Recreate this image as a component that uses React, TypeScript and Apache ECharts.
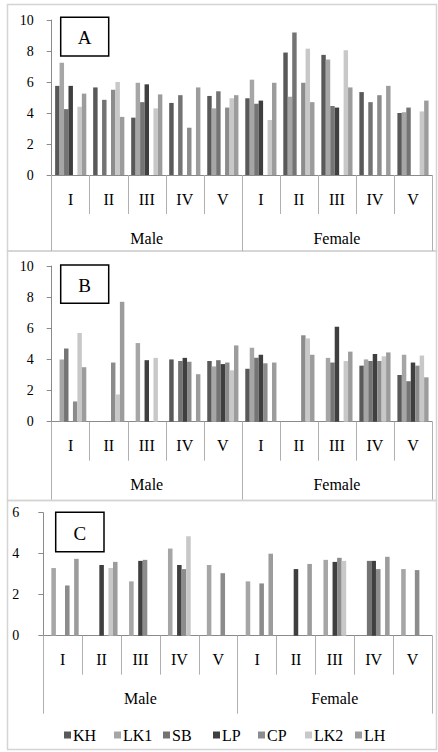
import React, { useEffect, useRef } from "react";
import * as echarts from "echarts";

const seriesNames = ["KH", "LK1", "SB", "LP", "CP", "LK2", "LH"];
const groups = ["Male", "Female"];
const stages = ["I", "II", "III", "IV", "V"];
const categories = [
  "Male I", "Male II", "Male III", "Male IV", "Male V",
  "Female I", "Female II", "Female III", "Female IV", "Female V",
];

// Panel A
const aKH = [5.75, 5.65, 3.7, 4.65, 5.1, 4.95, 7.9, 7.75, 5.35, 4.0];
const aLK1 = [7.25, null, 5.95, null, 4.3, 6.15, 5.05, 7.45, null, 4.05];
const aSB = [4.25, 4.85, 4.7, 5.15, 5.4, 4.6, 9.2, 4.45, 4.7, 4.35];
const aLP = [5.75, null, 5.85, null, null, 4.8, null, 4.35, null, null];
const aCP = [null, 5.5, null, 3.05, 4.35, null, 5.95, null, 5.15, null];
const aLK2 = [4.4, 6.0, 4.3, null, 4.95, 3.55, 8.15, 8.05, null, 4.1];
const aLH = [5.25, 3.75, 5.2, 5.65, 5.15, 5.95, 4.7, 5.65, 5.75, 4.8];

// Panel B
const bKH = [null, null, null, 4.0, 3.9, 3.4, null, null, 3.6, 3.0];
const bLK1 = [4.0, null, 5.05, null, 3.55, 4.75, null, 4.1, 4.0, 4.3];
const bSB = [4.7, null, null, 3.9, 3.95, 4.1, null, 3.8, 3.9, 2.6];
const bLP = [null, null, 3.95, 4.1, 3.7, 4.3, null, 6.1, 4.35, 3.8];
const bCP = [1.3, 3.8, null, 3.85, 3.8, 3.75, 5.55, null, 3.9, 3.6];
const bLK2 = [5.7, 1.75, 4.1, null, 3.3, null, 5.35, 3.9, 4.2, 4.25];
const bLH = [3.5, 7.7, null, 3.05, 4.9, 3.8, 4.3, 4.5, 4.45, 2.85];

// Panel C
const cKH = [null, null, null, null, null, null, null, null, null, null];
const cLK1 = [3.3, null, 2.65, 4.25, 3.45, 2.65, null, 3.7, null, 3.25];
const cSB = [null, null, null, null, null, null, null, null, 3.65, null];
const cLP = [null, 3.45, 3.65, 3.45, null, null, 3.25, 3.6, 3.65, null];
const cCP = [2.45, null, 3.7, 3.25, 3.05, 2.55, null, 3.8, 3.25, 3.2];
const cLK2 = [null, 3.3, null, 4.85, null, null, null, 3.65, null, null];
const cLH = [3.75, 3.6, null, null, null, 4.0, 3.5, null, 3.85, null];

const panelData = [
  [aKH, aLK1, aSB, aLP, aCP, aLK2, aLH],
  [bKH, bLK1, bSB, bLP, bCP, bLK2, bLH],
  [cKH, cLK1, cSB, cLP, cCP, cLK2, cLH],
];
const panelLabels = ["A", "B", "C"];
const yMax = [10, 10, 6];

const colors = ["#595959", "#a6a6a6", "#747474", "#3f3f3f", "#8c8c8c", "#c8c8c8", "#9c9c9c"];
const FONT = "Liberation Serif";

export default function App() {
  const ref = useRef<HTMLDivElement>(null);
  useEffect(() => {
    if (!ref.current) return;
    const chart = echarts.init(ref.current, undefined, { renderer: "svg" });

    const grids = [
      { left: 51.7, top: 20, width: 380.3, height: 155 },
      { left: 51.7, top: 266, width: 380.3, height: 155.7 },
      { left: 43.3, top: 512.7, width: 388.7, height: 123 },
    ];
    const yLabelMargin = [18, 18, 24];
    const axisColor = "#8a8a8a";
    const tickColor = "#b0b0b0";

    const xAxes: any[] = [];
    const yAxes: any[] = [];
    grids.forEach((g, i) => {
      xAxes.push({
        type: "category",
        gridIndex: i,
        data: categories,
        position: "bottom",
        axisLine: { show: true, lineStyle: { color: axisColor, width: 1 } },
        axisTick: { show: true, length: 39, lineStyle: { color: tickColor, width: 1 } },
        axisLabel: {
          margin: 16,
          fontFamily: FONT,
          fontSize: 16,
          color: "#000",
          interval: 0,
          formatter: (v: string) => v.split(" ")[1],
        },
      });
      xAxes.push({
        type: "category",
        gridIndex: i,
        data: groups,
        position: "bottom",
        axisLine: { show: false },
        axisTick: { show: true, length: i === 0 ? 76 : 78, lineStyle: { color: tickColor, width: 1 } },
        axisLabel: { margin: 55, fontFamily: FONT, fontSize: 16, color: "#000", interval: 0 },
      });
      yAxes.push({
        type: "value",
        gridIndex: i,
        min: 0,
        max: yMax[i],
        interval: 2,
        axisLine: { show: true, lineStyle: { color: axisColor, width: 1 } },
        axisTick: { show: true, length: 5, lineStyle: { color: axisColor } },
        splitLine: { show: false },
        axisLabel: { margin: yLabelMargin[i], fontFamily: FONT, fontSize: 14, color: "#000" },
      });
    });

    const series: any[] = [];
    panelData.forEach((pd, p) => {
      pd.forEach((vals, s) => {
        series.push({
          type: "bar",
          name: seriesNames[s],
          xAxisIndex: p * 2,
          yAxisIndex: p,
          data: vals.map((v) => (v == null ? "-" : v)),
          itemStyle: { color: colors[s] },
          barGap: "0%",
          barCategoryGap: "18%",
        });
      });
    });

    const legendLeft = [64, 114, 163, 213, 258, 305, 355];
    const legends = seriesNames.map((n, i) => ({
      data: [n],
      left: legendLeft[i],
      top: 727,
      padding: 0,
      icon: "rect",
      itemWidth: 7,
      itemHeight: 7,
      textStyle: { fontFamily: FONT, fontSize: 16, color: "#000", padding: [0, 0, 0, -3] },
      selectedMode: false,
    }));

    const panelRects = [
      { y: 4.5, h: 246.5 },
      { y: 251, h: 249.5 },
      { y: 500.5, h: 249 },
    ];
    const labelBoxes = [
      { x: 60.7, y: 17.3, w: 48, h: 38.7 },
      { x: 60.7, y: 265, w: 48, h: 38.3 },
      { x: 55.7, y: 512.3, w: 48.3, h: 39.4 },
    ];
    const graphic: any[] = [];
    panelRects.forEach((r) => {
      graphic.push({
        type: "rect",
        shape: { x: 7.5, y: r.y, width: 429, height: r.h },
        style: { fill: "none", stroke: "#d4d4d4", lineWidth: 1.5 },
        silent: true,
        z: -10,
      });
    });
    labelBoxes.forEach((b, i) => {
      graphic.push({
        type: "rect",
        shape: { x: b.x, y: b.y, width: b.w, height: b.h },
        style: { fill: "#fff", stroke: "#000", lineWidth: 1.5 },
        z: 100,
      });
      graphic.push({
        type: "text",
        x: b.x + b.w / 2,
        y: b.y + b.h / 2 + 1,
        style: {
          text: panelLabels[i],
          fontFamily: FONT,
          fontSize: 19,
          fill: "#000",
          align: "center",
          verticalAlign: "middle",
        },
        z: 101,
      });
    });

    chart.setOption({
      animation: false,
      backgroundColor: "#fff",
      grid: grids,
      xAxis: xAxes,
      yAxis: yAxes,
      series,
      legend: legends,
      graphic,
    });
    return () => chart.dispose();
  }, []);
  return (
    <div
      ref={ref}
      style={{ position: "fixed", left: 0, top: 0, width: 438, height: 752 }}
    />
  );
}
